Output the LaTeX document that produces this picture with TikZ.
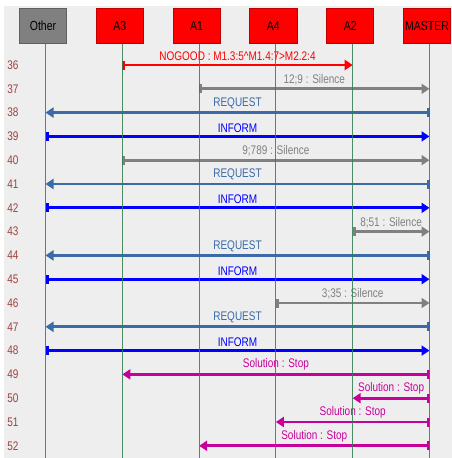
\documentclass[tikz,border=0pt]{standalone}
\usepackage{fontspec}
\setmainfont{Liberation Sans}
\usepackage{graphicx}
\usetikzlibrary{positioning, arrows.meta}

\definecolor{bggray}{HTML}{EEEEEE}
\definecolor{boxred}{HTML}{FF0000}
\definecolor{boxredline}{HTML}{C00000}
\definecolor{boxgray}{HTML}{808080}
\definecolor{boxgrayline}{HTML}{606060}
\definecolor{lifegreen}{HTML}{2E7D50}
\definecolor{rowred}{HTML}{A04040}
\definecolor{silgray}{HTML}{808080}
\definecolor{reqblue}{HTML}{3A6AA8}
\definecolor{infblue}{HTML}{0000FF}
\definecolor{solmag}{HTML}{C8009B}

\newcommand\tallt[1]{\scalebox{1}[1.25]{#1}}

\tikzset{
  agent/.style={draw=boxredline, fill=boxred, line width=0.8pt,
    minimum width=47.2pt, minimum height=35.2pt, inner sep=0pt,
    font=\fontsize{10.5}{12}\selectfont},
  other/.style={agent, draw=boxgrayline, fill=boxgray},
  life/.style={draw=lifegreen, line width=0.9pt, opacity=0.85},
  rownum/.style={text=rowred, inner sep=0pt, font=\fontsize{10}{11}\selectfont},
  msg/.style={line width=2.8pt,
    {Rectangle[length=3pt,width=9pt]}-{Triangle[length=8pt,width=10pt]}},
  lbl/.style={above=1.5pt, inner sep=1pt, font=\fontsize{10}{11}\selectfont},
  nogood/.style={msg, draw=boxred, text=boxred},
  silence/.style={msg, draw=silgray, text=silgray},
  request/.style={msg, draw=reqblue, text=reqblue},
  inform/.style={msg, draw=infblue, text=infblue},
  solution/.style={msg, draw=solmag, text=solmag}
}

\begin{document}
\begin{tikzpicture}[x=1pt,y=-1pt,node distance=28.8pt]
  \useasboundingbox (0,0) rectangle (452,458);
  \fill[bggray] (4,6) rectangle (452,458);

  % header boxes
  \node[other] (hOther) at (43,26) {\tallt{Other}};
  \node[agent,right=of hOther] (hA3) {\tallt{A3}};
  \node[agent,right=of hA3] (hA1) {\tallt{A1}};
  \node[agent,right=of hA1] (hA4) {\tallt{A4}};
  \node[agent,right=of hA4] (hA2) {\tallt{A2}};
  \node[agent,right=of hA2] (hMaster) {\tallt{MASTER}};

  % lifeline tops
  \coordinate (Other) at ([xshift=2.5pt]hOther.south);
  \coordinate (A3) at ([xshift=2.5pt]hA3.south);
  \coordinate (A1) at ([xshift=2.5pt]hA1.south);
  \coordinate (A4) at ([xshift=2.5pt]hA4.south);
  \coordinate (A2) at ([xshift=2.5pt]hA2.south);
  \coordinate (Master) at ([xshift=2.5pt]hMaster.south);
  \coordinate (bottom) at (0,458);

  % row numbers
  \foreach \n in {36,...,52}
    \node[rownum] (n\n) at (13,{65+(\n-36)*23.8}) {\tallt{\n}};

  % messages
  \path (A3 |- n36) edge[nogood] node[lbl] {\tallt{NOGOOD : M1.3:5\textasciicircum M1.4:7>M2.2:4}} (A2 |- n36)
    (A1 |- n37) edge[silence] node[lbl] {\tallt{12;9 : Silence}} (Master |- n37)
    (Master |- n38) edge[request] node[lbl] {\tallt{REQUEST}} (Other |- n38)
    (Other |- n39) edge[inform] node[lbl] {\tallt{INFORM}} (Master |- n39)
    (A3 |- n40) edge[silence] node[lbl] {\tallt{9;789 : Silence}} (Master |- n40)
    (Master |- n41) edge[request] node[lbl] {\tallt{REQUEST}} (Other |- n41)
    (Other |- n42) edge[inform] node[lbl] {\tallt{INFORM}} (Master |- n42)
    (A2 |- n43) edge[silence] node[lbl] {\tallt{8;51 : Silence}} (Master |- n43)
    (Master |- n44) edge[request] node[lbl] {\tallt{REQUEST}} (Other |- n44)
    (Other |- n45) edge[inform] node[lbl] {\tallt{INFORM}} (Master |- n45)
    (A4 |- n46) edge[silence] node[lbl] {\tallt{3;35 : Silence}} (Master |- n46)
    (Master |- n47) edge[request] node[lbl] {\tallt{REQUEST}} (Other |- n47)
    (Other |- n48) edge[inform] node[lbl] {\tallt{INFORM}} (Master |- n48)
    (Master |- n49) edge[solution] node[lbl] {\tallt{Solution : Stop}} (A3 |- n49)
    (Master |- n50) edge[solution] node[lbl] {\tallt{Solution : Stop}} (A2 |- n50)
    (Master |- n51) edge[solution] node[lbl] {\tallt{Solution : Stop}} (A4 |- n51)
    (Master |- n52) edge[solution] node[lbl] {\tallt{Solution : Stop}} (A1 |- n52);

  % lifelines
  \foreach \a in {Other,A3,A1,A4,A2,Master}
    \draw[life] (\a) -- (\a |- bottom);
\end{tikzpicture}
\end{document}
